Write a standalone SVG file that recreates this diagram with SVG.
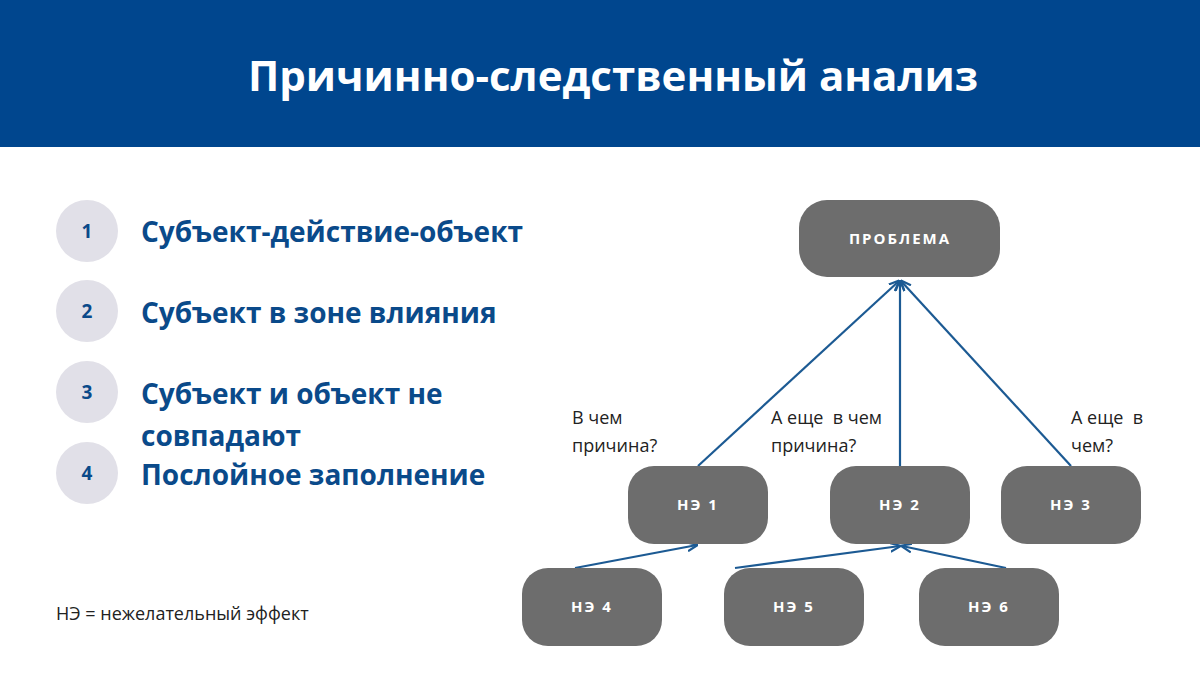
<svg xmlns="http://www.w3.org/2000/svg" width="1200" height="675" viewBox="0 0 1200 675">
<style>
.node rect{fill:#6d6d6d}
.node text{fill:#fff;font-family:"Open Sans",sans-serif;font-weight:bold;font-size:15px;letter-spacing:2px;text-anchor:middle}
.num circle{fill:#e1e0e8}
.num text{fill:#0a4a8a;font-family:"Open Sans",sans-serif;font-weight:bold;font-size:19px;text-anchor:middle}
.item{fill:#0a4a8a;font-family:"Open Sans",sans-serif;font-weight:bold;font-size:28px}
.lbl{fill:#222;font-family:"Open Sans",sans-serif;font-size:18px}
.conn line{stroke:#1c5a93;stroke-width:2.2}
</style>
<defs><marker id="ah" viewBox="0 0 10 10" refX="9" refY="5" markerWidth="5" markerHeight="5" orient="auto"><path d="M0,1 L10,5 L0,9" fill="none" stroke="#1c5a93" stroke-width="2"/></marker></defs>
<rect width="1200" height="675" fill="#fff"/>
<rect width="1200" height="147" fill="#00468e"/>
<text x="613" y="91" fill="#fff" font-family="'Open Sans',sans-serif" font-weight="bold" font-size="42" text-anchor="middle">Причинно-следственный анализ</text>
<g class="num"><circle cx="87" cy="231" r="31"/><text x="87" y="238">1</text><circle cx="87" cy="311" r="31"/><text x="87" y="318">2</text><circle cx="87" cy="392" r="31"/><text x="87" y="399">3</text><circle cx="87" cy="473" r="31"/><text x="87" y="480">4</text></g>
<text class="item" x="141" y="242">Субъект-действие-объект</text>
<text class="item" x="141" y="323">Субъект в зоне влияния</text>
<text class="item" x="141" y="404">Субъект и объект не</text>
<text class="item" x="141" y="446">совпадают</text>
<text class="item" x="141" y="485">Послойное заполнение</text>
<text class="lbl" x="56" y="620">НЭ = нежелательный эффект</text>
<text class="lbl" x="572" y="424">В чем</text><text class="lbl" x="572" y="452">причина?</text>
<text class="lbl" x="771" y="424" xml:space="preserve">А еще  в чем</text><text class="lbl" x="771" y="452">причина?</text>
<text class="lbl" x="1071" y="424" xml:space="preserve">А еще  в</text><text class="lbl" x="1071" y="452">чем?</text>
<g class="conn">
<line x1="698" y1="466" x2="899" y2="281" marker-end="url(#ah)"/>
<line x1="900" y1="466" x2="900" y2="281" marker-end="url(#ah)"/>
<line x1="1071" y1="466" x2="901" y2="281" marker-end="url(#ah)"/>
<line x1="575" y1="568" x2="697" y2="545" marker-end="url(#ah)"/>
<line x1="735" y1="568" x2="900" y2="546" marker-end="url(#ah)"/>
<line x1="1006" y1="568" x2="902" y2="546" marker-end="url(#ah)"/>
</g>
<g id="problem" class="node"><rect x="799" y="200" width="201" height="77" rx="28"/><text x="900" y="244">ПРОБЛЕМА</text></g>
<g id="ne1" class="node"><rect x="628" y="466" width="140" height="78" rx="26"/><text x="698" y="510">НЭ 1</text></g>
<g id="ne2" class="node"><rect x="830" y="466" width="140" height="78" rx="26"/><text x="900" y="510">НЭ 2</text></g>
<g id="ne3" class="node"><rect x="1001" y="466" width="140" height="78" rx="26"/><text x="1071" y="510">НЭ 3</text></g>
<g id="ne4" class="node"><rect x="522" y="568" width="140" height="78" rx="26"/><text x="592" y="612">НЭ 4</text></g>
<g id="ne5" class="node"><rect x="724" y="568" width="140" height="78" rx="26"/><text x="794" y="612">НЭ 5</text></g>
<g id="ne6" class="node"><rect x="919" y="568" width="140" height="78" rx="26"/><text x="989" y="612">НЭ 6</text></g>
</svg>
